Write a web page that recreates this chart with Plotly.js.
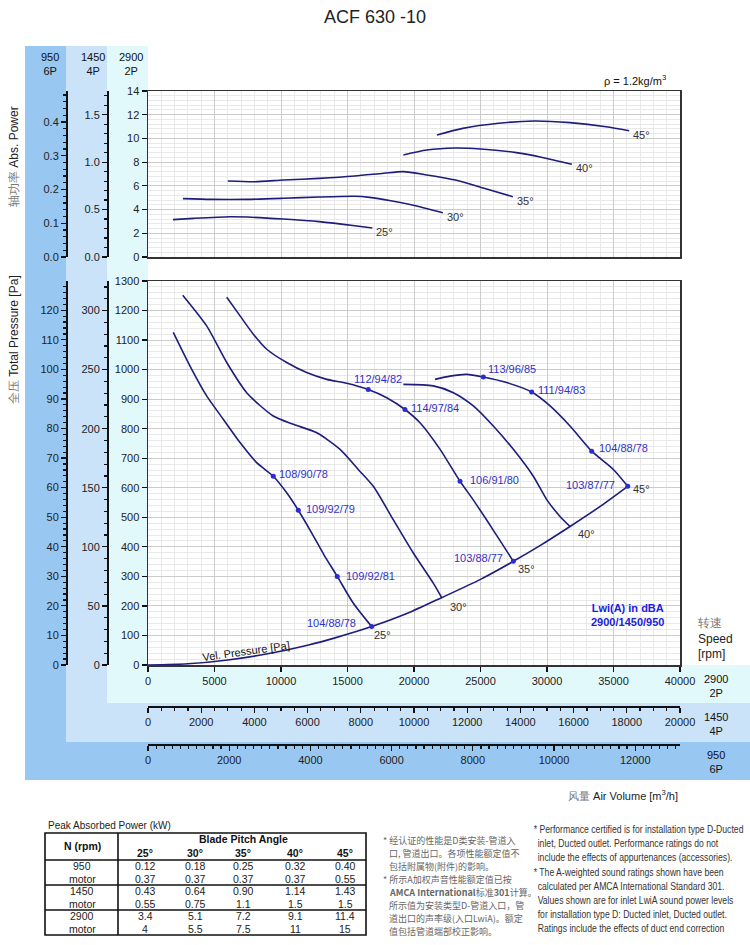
<!DOCTYPE html>
<html><head><meta charset="utf-8">
<script src="https://cdn.plot.ly/plotly-3.0.1.min.js"></script>
<style>body{margin:0;background:#fff}#chart{width:750px;height:945px}</style>
</head><body><div id="chart"></div>
<script>
// ---------------- DATA ----------------
const angles = ['25°','30°','35°','40°','45°'];
// Total pressure curves at 2900 rpm: air volume [m3/h] / total pressure [Pa]
const q25 = [1900,3160,4410,5660,6920,8170,9420,10430,11300,12260,13230,14230,15440,16820];
const p25 = [1126,1012,911,832,753,685,639,583,524,451,373,300,209,130];
const q30 = [2610,4410,5920,7420,9420,10930,12690,14440,15810,16940,18440,19950,21450,22080];
const p30 = [1252,1148,1024,922,843,815,786,730,662,605,492,379,277,228];
const q35 = [5920,6920,7920,8930,10430,11930,13440,14940,16560,17950,19320,20450,21960,23460,24440,25490,26470,27470];
const p35 = [1245,1182,1120,1069,1024,990,967,954,933,905,865,820,730,622,560,489,421,351];
const q40 = [19200,21450,22960,24460,25960,27470,28970,29980,30980,31730];
const p40 = [950,945,922,877,809,730,639,560,503,469];
const q45 = [21580,22710,23960,25210,26970,28850,30230,31730,33360,34990,36070];
const p45 = [967,978,984,975,956,924,877,809,724,662,605];
// Velocity pressure curve
const qVel = [0,3000,6000,9000,12000,14000,16820,19500,22080,25000,27470,29500,31730,34000,36070];
const pVel = [0,4,17,38,67,91,130,175,228,290,351,405,469,537,605];
// Absorbed power curves at 2900 rpm [kW]
const w25q = [1880,3440,6140,7480,10180,12870,15560,16870];
const w25  = [3.15,3.26,3.40,3.37,3.20,2.98,2.64,2.45];
const w30q = [2630,4790,7480,10180,12870,15560,16650,18260,19880,22170];
const w30  = [4.92,4.86,4.86,4.95,5.06,5.12,5.03,4.75,4.39,3.74];
const w35q = [6000,8020,10180,12870,15560,17720,19200,20960,23110,25270,27430];
const w35  = [6.41,6.35,6.49,6.63,6.83,7.06,7.20,6.92,6.49,5.79,5.09];
const w40q = [19200,20960,23110,25000,27690,29580,31870];
const w40  = [8.60,9.02,9.19,9.11,8.80,8.41,7.82];
const w45q = [21720,23660,26350,29050,31740,34440,36180];
const w45  = [10.29,10.85,11.28,11.47,11.33,10.99,10.65];
// Sound points Lwi(A) 2900/1450/950
const sndQ = [9420,11300,14230,16820, 16560,19320,23460,27470, 25210,28850,33360,36070];
const sndP = [639,524,300,130, 933,865,622,351, 975,924,724,605];
const sndTxt = ['108/90/78','109/92/79','109/92/81','104/88/78','112/94/82','114/97/84','106/91/80','103/88/77','113/96/85','111/94/83','104/88/78','103/87/77'];
// Speed scales
const speedRpm = ['2900','1450','950'];
const speedPoles = ['2P','4P','6P'];
// Peak absorbed power table
const rpmRows = ['950','motor','1450','motor','2900','motor'];
const pk25 = ['0.12','0.37','0.43','0.55','3.4','4'];
const pk30 = ['0.18','0.37','0.64','0.75','5.1','5.5'];
const pk35 = ['0.25','0.37','0.90','1.1','7.2','7.5'];
const pk40 = ['0.32','0.37','1.14','1.5','9.1','11'];
const pk45 = ['0.40','0.55','1.43','1.5','11.4','15'];
const notesEn = [
 '* Performance certified is for installation type D-Ducted',
 'inlet, Ducted outlet. Performance ratings do not',
 'include the effects of appurtenances (accessories).',
 '* The A-weighted sound ratings shown have been',
 'calculated per AMCA International Standard 301.',
 'Values shown are for inlet LwiA sound power levels',
 'for installation type D: Ducted inlet, Ducted outlet.',
 'Ratings include the effects of duct end correction'];
const notesZh = [
 '* 经认证的性能是D类安装-管道入',
 '口, 管道出口。各项性能额定值不',
 '包括附属物(附件)的影响。',
 '* 所示A加权声音性能额定值已按',
 '<b>AMCA International</b>标准<b>301</b>计算。',
 '所示值为安装类型D-管道入口，管',
 '道出口的声率级(入口LwiA)。额定',
 '值包括管道端部校正影响。'];

// ---------------- STYLE / LAYOUT ----------------
const W=750,H=945;
const X=p=>p/W, Y=p=>1-p/H;
const FONT='Arial, "Liberation Sans", sans-serif';
const CJK='"Noto Sans CJK SC", sans-serif';
const navy='#1d1d7c', blue='#2c2cd2', ink='#222';

const traces=[];
const lineStyle={color:navy,width:1.6,shape:'spline',smoothing:0.7};
[[q25,p25],[q30,p30],[q35,p35],[q40,p40],[q45,p45],[qVel,pVel]].forEach(([q,p])=>{
  traces.push({x:q,y:p,xaxis:'x',yaxis:'y',mode:'lines',line:lineStyle,hoverinfo:'skip',showlegend:false});
});
const powerSets=[[w25q,w25],[w30q,w30],[w35q,w35],[w40q,w40],[w45q,w45]];
powerSets.forEach(([q,w])=>{
  traces.push({x:q,y:w,xaxis:'x2',yaxis:'y2',mode:'lines',line:lineStyle,hoverinfo:'skip',showlegend:false});
});
traces.push({x:sndQ,y:sndP,xaxis:'x',yaxis:'y',mode:'markers',marker:{color:blue,size:5},hoverinfo:'skip',showlegend:false});
// dummy traces so the extra speed scales get drawn
[['x2','y3'],['x2','y4'],['x','y5'],['x','y6'],['x3','y'],['x4','y']].forEach(([xa,ya])=>{
  traces.push({x:[null],y:[null],xaxis:xa,yaxis:ya,mode:'markers',hoverinfo:'skip',showlegend:false});
});

function ax(o){return Object.assign({showgrid:false,zeroline:false,showline:true,linecolor:'#111',linewidth:1.5,
  ticks:'outside',ticklen:5,tickwidth:1.2,tickcolor:'#111',tickfont:{family:FONT,size:11,color:ink},
  exponentformat:'none',separatethousands:false,fixedrange:true,tickmode:'linear',tick0:0,tickformat:'d'},o);}
const gridMain='#cccccc', gridMinor='#e9e9e9';
const dom=[X(148),X(680)];
const layout={
  width:W,height:H,margin:{l:0,r:0,t:0,b:0,pad:0},paper_bgcolor:'#fff',plot_bgcolor:'rgba(0,0,0,0)',showlegend:false,
  font:{family:FONT,size:11,color:ink},separators:'.,',
  xaxis:ax({domain:dom,range:[0,40000],anchor:'y',dtick:5000,showgrid:true,gridcolor:gridMain,
    minor:{dtick:1000,showgrid:true,gridcolor:gridMinor},mirror:true,linecolor:'#333'}),
  yaxis:ax({domain:[Y(665),Y(281)],range:[0,1300],anchor:'x',dtick:100,showgrid:true,gridcolor:gridMain,
    minor:{dtick:20,showgrid:true,gridcolor:gridMinor},mirror:true,linecolor:'#333'}),
  xaxis2:ax({domain:dom,range:[0,40000],anchor:'y2',dtick:5000,showticklabels:false,ticks:'',showgrid:true,gridcolor:gridMain,
    minor:{dtick:1000,showgrid:true,gridcolor:gridMinor},mirror:true,linecolor:'#333'}),
  yaxis2:ax({domain:[Y(257),Y(91)],range:[0,14],anchor:'x2',dtick:2,showgrid:true,gridcolor:gridMain,
    minor:{dtick:0.4,showgrid:true,gridcolor:gridMinor},mirror:true,linecolor:'#333'}),
  yaxis3:ax({overlaying:'y2',anchor:'free',position:X(107),side:'left',range:[0,1.75],dtick:0.5,tickformat:'.1f',
    minor:{dtick:0.1,ticks:'outside',ticklen:3,tickcolor:'#111'}}),
  yaxis4:ax({overlaying:'y2',anchor:'free',position:X(66),side:'left',range:[0,0.492],dtick:0.1,tickformat:'.1f',
    minor:{dtick:0.02,ticks:'outside',ticklen:3,tickcolor:'#111'}}),
  yaxis5:ax({overlaying:'y',anchor:'free',position:X(107),side:'left',range:[0,325],dtick:50,
    minor:{dtick:10,ticks:'outside',ticklen:3,tickcolor:'#111'}}),
  yaxis6:ax({overlaying:'y',anchor:'free',position:X(66),side:'left',range:[0,129.9],dtick:10,
    minor:{dtick:2,ticks:'outside',ticklen:3,tickcolor:'#111'}}),
  xaxis3:ax({overlaying:'x',anchor:'free',position:Y(706),side:'bottom',range:[0,20000],dtick:2000,
    minor:{dtick:500,ticks:'outside',ticklen:3,tickcolor:'#111'}}),
  xaxis4:ax({overlaying:'x',anchor:'free',position:Y(744),side:'bottom',range:[0,13103],dtick:2000,
    minor:{dtick:200,ticks:'outside',ticklen:3,tickcolor:'#111'}}),
  shapes:[],annotations:[]
};
const rect=(x0,y0,x1,y1,fill)=>({type:'rect',xref:'paper',yref:'paper',x0:X(x0),x1:X(x1),y0:Y(y1),y1:Y(y0),fillcolor:fill,line:{width:0},layer:'below'});
layout.shapes.push(rect(25,46,750,780,'#98c7f1'));
layout.shapes.push(rect(66,46,750,742,'#cae3f8'));
layout.shapes.push(rect(107,46,750,703,'#e2f9fc'));
layout.shapes.push(rect(148,46,750,665,'#ffffff'));
// table lines
const tL=45,tR=366,tT=833,tB=935,tCol=118;
const ln=(x0,y0,x1,y1,w)=>({type:'line',xref:'paper',yref:'paper',x0:X(x0),x1:X(x1),y0:Y(y0),y1:Y(y1),line:{color:'#111',width:w}});
layout.shapes.push({type:'rect',xref:'paper',yref:'paper',x0:X(tL),x1:X(tR),y0:Y(tB),y1:Y(tT),line:{color:'#111',width:1.6},fillcolor:'rgba(0,0,0,0)'});
[860,885,910].forEach(y=>layout.shapes.push(ln(tL,y,tR,y,1.6)));
layout.shapes.push(ln(tCol,tT,tCol,tB,1.6));

const A=layout.annotations;
const pa=(x,y,text,o)=>A.push(Object.assign({xref:'paper',yref:'paper',x:X(x),y:Y(y),text:text,showarrow:false,
  xanchor:'center',yanchor:'middle',font:{family:FONT,size:11,color:ink}},o||{}));
// title
pa(375,17,'ACF 630 -10',{font:{family:FONT,size:18,color:'#222'}});
pa(668,80,'ρ = 1.2kg/m<sup>3</sup>',{xanchor:'right',font:{family:FONT,size:11,color:'#111'}});
// speed labels at top
[[131,0],[93,1],[50,2]].forEach(([x,i])=>pa(x,64,speedRpm[i]+'<br>'+speedPoles[i],{font:{family:FONT,size:11,color:'#111'}}));
// speed labels at right
[[686,0],[724,1],[762,2]].forEach(([y,i])=>pa(716,y,speedRpm[i]+'<br>'+speedPoles[i],{font:{family:FONT,size:11,color:'#111'}}));
pa(696,638,'<span style="color:#777">转速</span><br>Speed<br>[rpm]',{xanchor:'left',align:'left',font:{family:FONT,size:12,color:'#222'}});
pa(680,795,'<span style="color:#777">风量</span> Air Volume [m<sup>3</sup>/h]',{xanchor:'right',font:{family:FONT,size:11,color:'#222'}});
pa(14,157,'<span style="color:#777">轴功率</span> Abs. Power',{textangle:-90,font:{family:FONT,size:12,color:'#222'}});
pa(14,340,'<span style="color:#777">全压</span> Total Pressure [Pa]',{textangle:-90,font:{family:FONT,size:12,color:'#222'}});
// Lwi label
pa(627,615,'<b>Lwi(A) in dBA<br>2900/1450/950</b>',{font:{family:FONT,size:11,color:'#2020dd'}});

// data-anchored annotations
const da=(xa,ya,x,y,text,o)=>A.push(Object.assign({xref:xa,yref:ya,x:x,y:y,text:text,showarrow:false,
  xanchor:'left',yanchor:'middle',font:{family:FONT,size:11,color:ink}},o||{}));
const sndAnchor=['left','left','left','right','center','left','left','right','left','left','left','right'];
const sndDx=[4,6,7,-14,10,4,8,-8,3,4,5,-11];
const sndDy=[2,1,0,4,10,1,1,3,8,2,3,1];
sndTxt.forEach((t,i)=>da('x','y',sndQ[i],sndP[i],t,{xanchor:sndAnchor[i],xshift:sndDx[i],yshift:sndDy[i],font:{family:FONT,size:11,color:'#3232c8'}}));
const pCurves=[[q25,p25],[q30,p30],[q35,p35],[q40,p40],[q45,p45]];
const angDx=[0,6,3,6,3], angDy=[-8,-9,-8,-8,-3];
pCurves.forEach(([q,p],i)=>da('x','y',q[q.length-1],p[p.length-1],angles[i],{xshift:angDx[i],yshift:angDy[i],font:{family:FONT,size:11,color:'#333'}}));
powerSets.forEach(([q,w],i)=>da('x2','y2',q[q.length-1],w[w.length-1],angles[i],{xshift:2,yshift:-4,font:{family:FONT,size:11,color:'#333'}}));
da('x','y',7400,47,'Vel. Pressure [Pa]',{xanchor:'center',textangle:-8,font:{family:FONT,size:11,color:'#111'}});

// table text
pa(46,825,'Peak Absorbed Power (kW)',{xanchor:'left',font:{family:FONT,size:10,color:'#222'}});
pa(82,846,'<b>N (rpm)</b>',{font:{family:FONT,size:10.5,color:'#111'}});
const colX=[145,195,243,295,345];
pa(243,839,'<b>Blade Pitch Angle</b>',{font:{family:FONT,size:10.5,color:'#111'}});
angles.forEach((a,i)=>pa(colX[i],853,'<b>'+a+'</b>',{font:{family:FONT,size:10.5,color:'#111'}}));
const rowY=[866,879,891,903.5,916,928.5];
const pkCols=[pk25,pk30,pk35,pk40,pk45];
rpmRows.forEach((r,j)=>{
  pa(82,rowY[j],r,{font:{family:FONT,size:10.5,color:'#222'}});
  pkCols.forEach((col,i)=>pa(colX[i],rowY[j],col[j],{font:{family:FONT,size:10.5,color:'#222'}}));
});
// notes
const enStart=A.length;
notesEn.forEach((t,i)=>pa(t.startsWith('*')?532:536,829+i*14.2,t,{xanchor:'left',font:{family:FONT,size:10.5,color:'#333'}}));
notesZh.forEach((t,i)=>pa(t.startsWith('*')?381:387,840+i*13,t,{xanchor:'left',font:{family:CJK,size:9,color:'#666'}}));

Plotly.newPlot('chart',traces,layout,{staticPlot:true,displayModeBar:false}).then(gd=>{
  // condense the English notes horizontally (the original uses a narrow typeface)
  const groups=[];
  for(let i=0;i<notesEn.length;i++){
    const g=gd.querySelector('.annotation[data-index="'+(enStart+i)+'"] .annotation-text-g > g');
    if(g) groups.push(g);
  }
  if(!groups.length) return;
  const t0=groups[0].querySelector('text');
  const w0=t0 ? t0.getBBox().width : 0;
  const s = w0>0 ? Math.min(1, 210/w0) : 0.8;
  groups.forEach(g=>{
    const tr=g.getAttribute('transform')||'';
    g.setAttribute('transform',tr+' scale('+s.toFixed(3)+',1)');
  });
});
</script></body></html>
